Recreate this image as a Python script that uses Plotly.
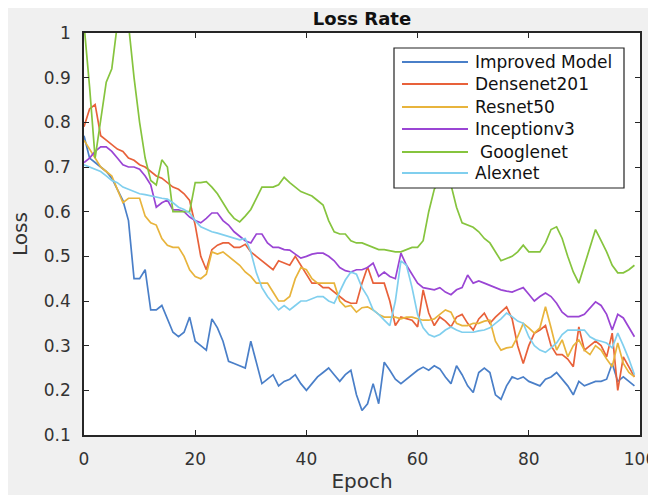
import plotly.graph_objects as go

epochs = list(range(0, 100))

improved_model = [0.77, 0.72, 0.71, 0.70, 0.69, 0.675, 0.65, 0.625, 0.58, 0.45,
                  0.45, 0.47, 0.38, 0.38, 0.39, 0.36, 0.33, 0.32, 0.33, 0.364,
                  0.31, 0.30, 0.29, 0.36, 0.34, 0.31, 0.265, 0.26, 0.255, 0.25,
                  0.31, 0.26, 0.215, 0.225, 0.235, 0.21, 0.22, 0.225, 0.235, 0.215,
                  0.20, 0.215, 0.23, 0.24, 0.25, 0.235, 0.22, 0.235, 0.245, 0.19,
                  0.155, 0.17, 0.215, 0.17, 0.263, 0.245, 0.225, 0.215, 0.225, 0.235,
                  0.245, 0.252, 0.245, 0.255, 0.248, 0.23, 0.215, 0.255, 0.235, 0.21,
                  0.195, 0.24, 0.25, 0.24, 0.19, 0.18, 0.21, 0.23, 0.225, 0.23,
                  0.22, 0.215, 0.21, 0.225, 0.23, 0.24, 0.225, 0.21, 0.19, 0.22,
                  0.21, 0.215, 0.22, 0.22, 0.225, 0.26, 0.22, 0.23, 0.22, 0.21]

densenet201 = [0.79, 0.83, 0.84, 0.77, 0.76, 0.75, 0.74, 0.735, 0.72, 0.715,
               0.705, 0.70, 0.69, 0.68, 0.675, 0.665, 0.655, 0.65, 0.64, 0.625,
               0.57, 0.50, 0.47, 0.515, 0.525, 0.53, 0.53, 0.52, 0.52, 0.527,
               0.51, 0.50, 0.49, 0.48, 0.47, 0.49, 0.485, 0.48, 0.50, 0.48,
               0.46, 0.44, 0.44, 0.43, 0.43, 0.42, 0.41, 0.40, 0.395, 0.395,
               0.44, 0.476, 0.44, 0.44, 0.44, 0.40, 0.345, 0.364, 0.36, 0.357,
               0.342, 0.425, 0.373, 0.345, 0.364, 0.355, 0.342, 0.364, 0.37, 0.35,
               0.335, 0.36, 0.373, 0.35, 0.364, 0.375, 0.387, 0.36, 0.30, 0.26,
               0.30, 0.328, 0.335, 0.345, 0.30, 0.28, 0.28, 0.27, 0.253, 0.342,
               0.29, 0.30, 0.31, 0.30, 0.275, 0.328, 0.20, 0.275, 0.253, 0.23]

resnet50 = [0.76, 0.74, 0.72, 0.70, 0.69, 0.68, 0.65, 0.62, 0.63, 0.63,
            0.63, 0.59, 0.575, 0.57, 0.54, 0.525, 0.52, 0.52, 0.50, 0.47,
            0.455, 0.45, 0.46, 0.51, 0.505, 0.51, 0.50, 0.49, 0.48, 0.465,
            0.455, 0.44, 0.44, 0.44, 0.42, 0.40, 0.40, 0.41, 0.45, 0.475,
            0.47, 0.45, 0.44, 0.44, 0.44, 0.44, 0.40, 0.387, 0.39, 0.375,
            0.385, 0.387, 0.38, 0.37, 0.364, 0.364, 0.364, 0.36, 0.364, 0.364,
            0.36, 0.357, 0.357, 0.36, 0.37, 0.38, 0.375, 0.35, 0.345, 0.345,
            0.35, 0.35, 0.355, 0.357, 0.31, 0.29, 0.295, 0.297, 0.32, 0.35,
            0.34, 0.328, 0.34, 0.387, 0.34, 0.29, 0.313, 0.275, 0.30, 0.313,
            0.29, 0.28, 0.30, 0.29, 0.27, 0.253, 0.306, 0.26, 0.24, 0.23]

inceptionv3 = [0.71, 0.72, 0.735, 0.745, 0.745, 0.735, 0.72, 0.705, 0.70, 0.70,
               0.695, 0.68, 0.66, 0.61, 0.62, 0.626, 0.604, 0.604, 0.60, 0.588,
               0.58, 0.575, 0.585, 0.597, 0.597, 0.58, 0.57, 0.555, 0.545, 0.535,
               0.53, 0.55, 0.55, 0.53, 0.52, 0.52, 0.515, 0.514, 0.505, 0.496,
               0.50, 0.505, 0.507, 0.507, 0.50, 0.49, 0.475, 0.468, 0.465, 0.47,
               0.47, 0.475, 0.485, 0.455, 0.465, 0.455, 0.45, 0.507, 0.48, 0.46,
               0.44, 0.43, 0.428, 0.425, 0.43, 0.42, 0.414, 0.425, 0.43, 0.458,
               0.44, 0.445, 0.44, 0.435, 0.43, 0.425, 0.422, 0.42, 0.425, 0.43,
               0.415, 0.40, 0.41, 0.418, 0.41, 0.395, 0.375, 0.365, 0.365, 0.365,
               0.37, 0.385, 0.398, 0.39, 0.37, 0.335, 0.37, 0.362, 0.34, 0.32]

googlenet = [1.02, 0.88, 0.72, 0.80, 0.89, 0.92, 1.02, 1.05, 1.02, 0.90,
             0.80, 0.72, 0.67, 0.66, 0.716, 0.70, 0.60, 0.60, 0.60, 0.60,
             0.665, 0.665, 0.667, 0.655, 0.64, 0.62, 0.60, 0.585, 0.577, 0.59,
             0.605, 0.63, 0.655, 0.655, 0.655, 0.66, 0.677, 0.665, 0.655, 0.645,
             0.64, 0.635, 0.625, 0.615, 0.58, 0.555, 0.55, 0.55, 0.535, 0.53,
             0.53, 0.525, 0.52, 0.515, 0.515, 0.512, 0.51, 0.51, 0.515, 0.52,
             0.52, 0.535, 0.60, 0.65, 0.67, 0.68, 0.66, 0.61, 0.575, 0.57,
             0.565, 0.555, 0.54, 0.53, 0.51, 0.49, 0.495, 0.50, 0.51, 0.525,
             0.51, 0.51, 0.51, 0.53, 0.56, 0.566, 0.54, 0.50, 0.465, 0.44,
             0.48, 0.52, 0.56, 0.535, 0.51, 0.48, 0.463, 0.463, 0.47, 0.48]

alexnet = [0.705, 0.70, 0.695, 0.69, 0.68, 0.67, 0.665, 0.655, 0.65, 0.645,
           0.64, 0.638, 0.635, 0.633, 0.63, 0.628, 0.62, 0.61, 0.605, 0.597,
           0.58, 0.566, 0.56, 0.555, 0.552, 0.548, 0.545, 0.54, 0.537, 0.54,
           0.51, 0.463, 0.43, 0.41, 0.395, 0.38, 0.39, 0.38, 0.39, 0.40,
           0.40, 0.405, 0.41, 0.41, 0.40, 0.395, 0.42, 0.447, 0.465, 0.46,
           0.43, 0.41, 0.38, 0.37, 0.357, 0.345, 0.40, 0.49, 0.48, 0.43,
           0.37, 0.34, 0.325, 0.32, 0.325, 0.335, 0.342, 0.335, 0.33, 0.33,
           0.33, 0.333, 0.335, 0.34, 0.35, 0.36, 0.373, 0.365, 0.355, 0.35,
           0.32, 0.30, 0.29, 0.285, 0.295, 0.306, 0.325, 0.335, 0.335, 0.335,
           0.335, 0.32, 0.313, 0.31, 0.306, 0.295, 0.328, 0.30, 0.27, 0.235]

series_names = ["Improved Model", "Densenet201", "Resnet50", "Inceptionv3", "Googlenet", "Alexnet"]
series_values = [improved_model, densenet201, resnet50, inceptionv3, googlenet, alexnet]
series_colors = ["#4a7fc8", "#e8613a", "#e8b43c", "#9a45d4", "#86c43e", "#80cfee"]

x_tickvals = [0, 20, 40, 60, 80, 100]
x_ticktext = ["0", "20", "40", "60", "80", "100"]
y_tickvals = [0.1, 0.2, 0.3, 0.4, 0.5, 0.6, 0.7, 0.8, 0.9, 1.0]
y_ticktext = ["0.1", "0.2", "0.3", "0.4", "0.5", "0.6", "0.7", "0.8", "0.9", "1"]

FONT = "DejaVu Sans"
OFF = 8                      # page body margin offset of the figure
W, H = 648, 487
ML, MR, MT, MB = 76, 16, 25, 60
PW, PH = W - ML - MR, H - MT - MB


def px2paper_x(px):
    # px measured in the screenshot
    return (px - OFF - ML) / PW


def px2paper_y(py):
    return (H - MB - (py - OFF)) / PH


fig = go.Figure()
for name, vals, col in zip(series_names, series_values, series_colors):
    fig.add_trace(go.Scatter(x=epochs, y=vals, mode="lines", name=name,
                             line=dict(color=col, width=1.7), showlegend=False))

shapes = [
    dict(type="rect", xref="paper", yref="paper", layer="above",
         x0=px2paper_x(394), x1=px2paper_x(624), y0=px2paper_y(188), y1=px2paper_y(48),
         fillcolor="white", line=dict(color="#222222", width=1.2)),
]
annotations = []
row_y = [62, 84, 107, 129, 152, 173]
for i, (name, col) in enumerate(zip(series_names, series_colors)):
    yy = px2paper_y(row_y[i])
    shapes.append(dict(type="line", xref="paper", yref="paper", layer="above",
                       x0=px2paper_x(402), x1=px2paper_x(468), y0=yy, y1=yy,
                       line=dict(color=col, width=2)))
    annotations.append(dict(xref="paper", yref="paper", x=px2paper_x(473), y=yy,
                            xanchor="left", yanchor="middle", showarrow=False,
                            text=name, xshift=5 if name == "Googlenet" else 0,
                            font=dict(family=FONT, size=17, color="#111111")))

axis_common = dict(showline=True, linecolor="#262626", linewidth=1.6, mirror="allticks",
                   ticks="inside", ticklen=5, tickwidth=1.2, tickcolor="#262626",
                   showgrid=False, zeroline=False, ticklabeloverflow="allow",
                   tickfont=dict(family=FONT, size=17, color="#333333"))

fig.update_layout(
    width=W, height=H,
    margin=dict(l=ML, r=MR, t=MT, b=MB, autoexpand=False),
    paper_bgcolor="#f0f0f0", plot_bgcolor="white",
    title=dict(text="<b>Loss Rate</b>", x=0.5, xref="paper", xanchor="center",
               y=1 - 10.5 / H, yref="container", yanchor="middle",
               font=dict(family=FONT, size=18, color="#111111")),
    xaxis=dict(range=[0, 100], tickvals=x_tickvals, ticktext=x_ticktext,
               title=dict(text="Epoch", standoff=6, font=dict(family=FONT, size=20, color="#333333")),
               ticklabelstandoff=8, **axis_common),
    yaxis=dict(range=[0.1, 1.0], tickvals=y_tickvals, ticktext=y_ticktext,
               title=dict(text="Loss", standoff=12, font=dict(family=FONT, size=20, color="#333333")),
               ticklabelstandoff=8, **axis_common),
    shapes=shapes, annotations=annotations,
    showlegend=False,
)

fig.write_html("out.html")
